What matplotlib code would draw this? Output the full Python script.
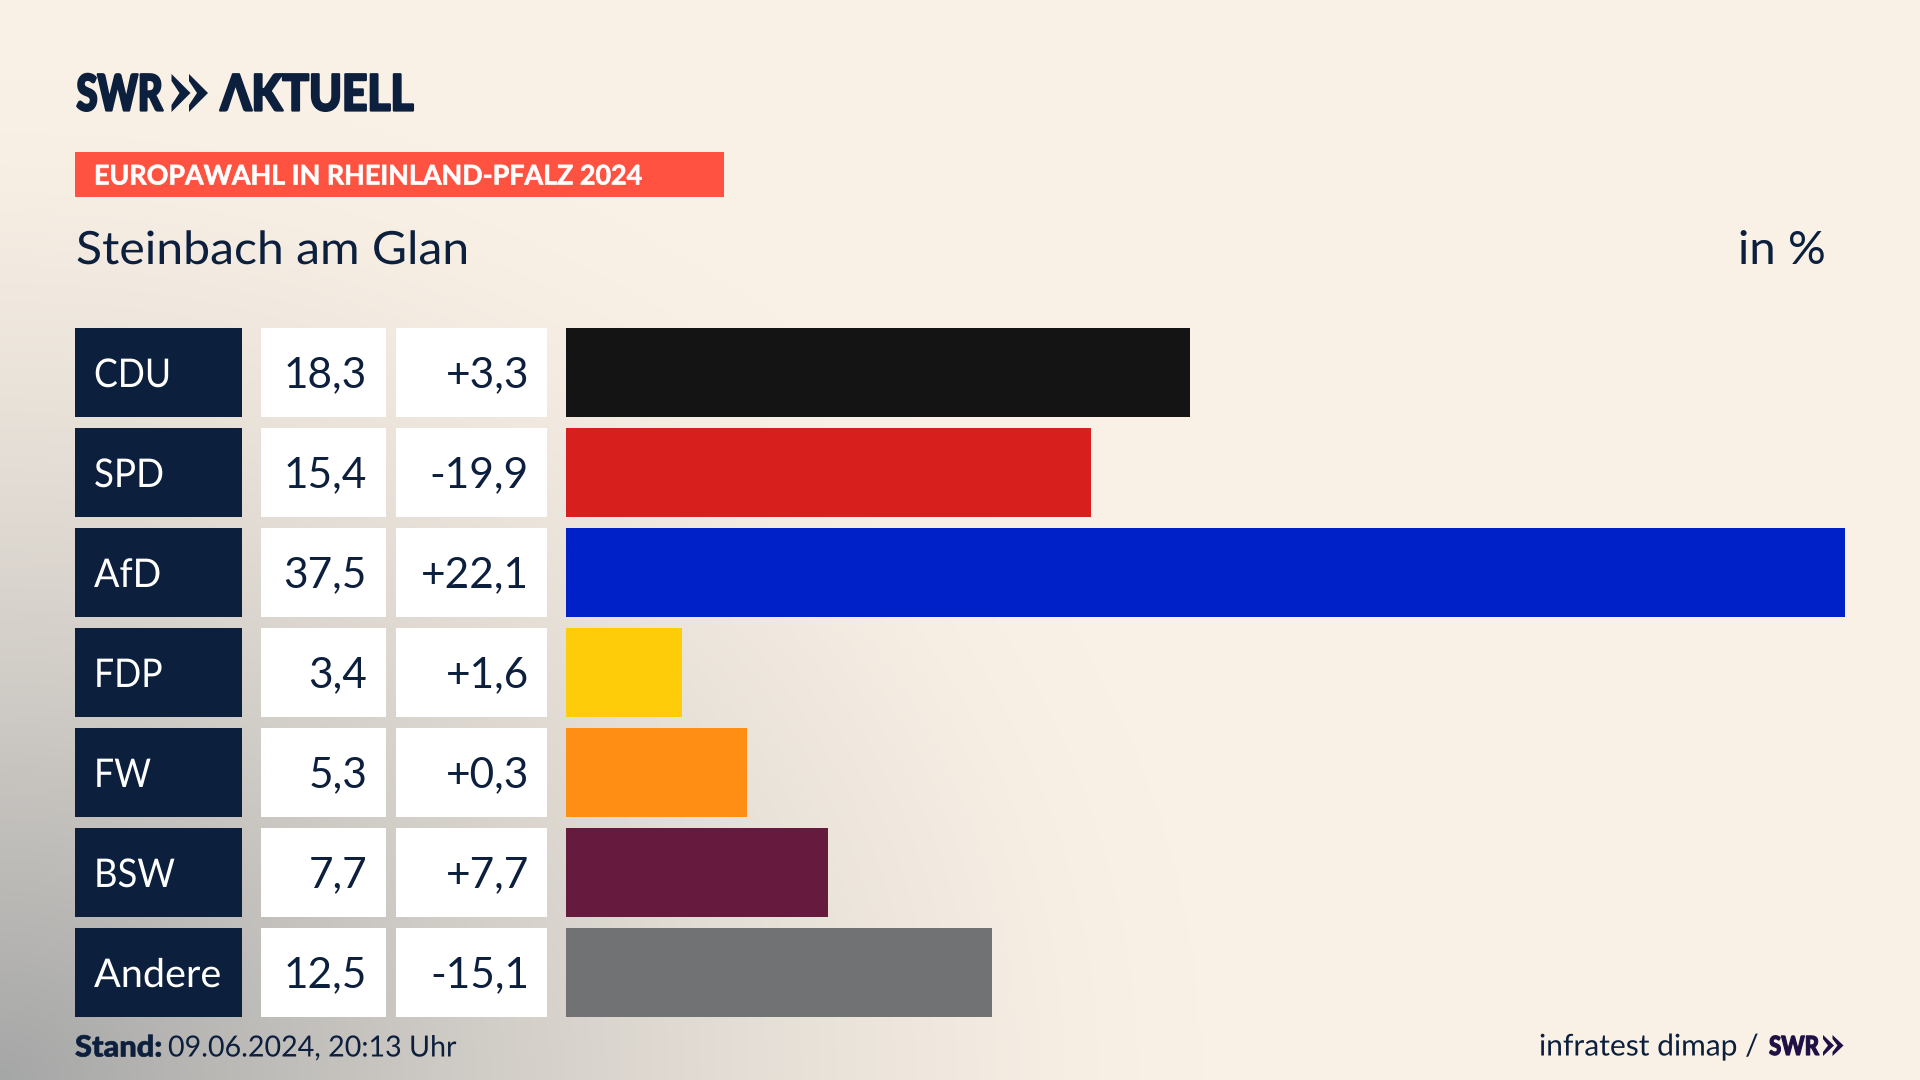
import numpy as np
import matplotlib
matplotlib.use('Agg')
import matplotlib.pyplot as plt
from matplotlib.patches import Rectangle, Polygon
from matplotlib.patheffects import AbstractPathEffect
from matplotlib.transforms import Affine2D

parties = ['CDU', 'SPD', 'AfD', 'FDP', 'FW', 'BSW', 'Andere']
shares = [18.3, 15.4, 37.5, 3.4, 5.3, 7.7, 12.5]
changes = ['+3,3', '-19,9', '+22,1', '+1,6', '+0,3', '+7,7', '-15,1']
bar_colors = ['#141414', '#D71F1D', '#0021C7', '#FFCC0A', '#FF8E14', '#651A3E', '#707274']

NAVY = '#0C1F3D'
INK = '#1E0F45'
FONT = 'Lato'
W, H = 1920, 1080


class Squeeze(AbstractPathEffect):
    """Scale a text horizontally around a pixel position, lw thickens the letters a bit"""

    def __init__(self, sx, x0, lw=0.0):
        super().__init__()
        self.sx = sx
        self.x0 = x0
        self.lw = lw

    def draw_path(self, renderer, gc, tpath, affine, rgbFace=None):
        t = affine + Affine2D().translate(-self.x0, 0).scale(self.sx, 1).translate(self.x0, 0)
        gc0 = renderer.new_gc()
        gc0.copy_properties(gc)
        gc0.set_linewidth(self.lw)
        renderer.draw_path(gc0, tpath, t, rgbFace)
        gc0.restore()


def fit_text(x, y, s, width, size, color=NAVY, weight='normal', lw=0.0):
    """Put a left aligned text at baseline y and make it exactly width pixels wide"""
    t = bg.text(x, y, s, color=color, fontsize=size, family=FONT, weight=weight, ha='left', va='baseline', zorder=2)
    box = t.get_window_extent(fig.canvas.get_renderer())
    t.set_path_effects([Squeeze(width / box.width, box.x0, lw)])
    return t


def chevrons(xs, top, bottom, w, notch, cut, color):
    mid = (top + bottom) / 2
    for x0 in xs:
        bg.add_patch(Polygon([(x0, top), (x0 + w, mid), (x0, bottom), (x0, bottom - cut),
                              (x0 + notch, mid), (x0, top + cut)], fc=color, ec='none', zorder=2))


fig = plt.figure(figsize=(19.2, 10.8), dpi=100)

# full figure axes in pixels, for background, cells and text
bg = fig.add_axes([0, 0, 1, 1])
bg.set_xlim(0, W)
bg.set_ylim(H, 0)
bg.axis('off')

# cream background with the grey haze coming out of the lower left corner
yy, xx = np.mgrid[0:H:270j, 0:W:480j]
d = np.sqrt((xx / 1200.0) ** 2 + ((H - yy) / 1000.0) ** 2)
a = np.clip(1 - d, 0, 1) ** 1.4
cream = np.array([250, 241, 230]) / 255.0
grey = np.array([165, 166, 166]) / 255.0
img = cream[None, None, :] * (1 - a[..., None]) + grey[None, None, :] * a[..., None]
bg.imshow(img, extent=[0, W, H, 0], aspect='auto', interpolation='bilinear', zorder=0)
bg.set_xlim(0, W)
bg.set_ylim(H, 0)

row_top = 328
row_step = 100
row_h = 88.5
name_sx = [0.90, 0.93, 0.95, 0.90, 0.90, 0.92, 1.0]
for i, name in enumerate(parties):
    y = row_top + i * row_step
    base = y + 59
    bg.add_patch(Rectangle((75, y), 167, row_h, fc=NAVY, ec='none', zorder=1))
    bg.add_patch(Rectangle((261, y), 125, row_h, fc='white', ec='none', zorder=1))
    bg.add_patch(Rectangle((396, y), 151, row_h, fc='white', ec='none', zorder=1))
    t = bg.text(94, base, name, color='white', fontsize=28.5, family=FONT, ha='left', va='baseline', zorder=2)
    t.set_path_effects([Squeeze(name_sx[i], 94)])
    bg.text(367, base, f'{shares[i]:.1f}'.replace('.', ','), color=NAVY, fontsize=30.5, family=FONT,
            ha='right', va='baseline', zorder=2)
    bg.text(529, base, changes[i], color=NAVY, fontsize=30.5, family=FONT, ha='right', va='baseline', zorder=2)

# bars on their own axes, scaled so that 37.5 reaches the right end
ax = fig.add_axes([565.7 / W, 1 - (928 + row_h) / H, 1279.6 / W, (600 + row_h) / H])
ax.set_xlim(0, 37.5)
ax.set_ylim(6 + row_h / row_step / 2, -row_h / row_step / 2)
ax.barh(range(len(parties)), shares, height=row_h / row_step, color=bar_colors)
ax.axis('off')

# logo
fit_text(76.5, 110.5, 'SWR', 86, 36, weight='black', lw=1.6)
chevrons([171.5, 189], 74, 112, 19, 8, 7, NAVY)
fit_text(220.5, 110.5, '\u039bKTUELL', 193, 36, weight='black', lw=1.6)

# tag line and titles
bg.add_patch(Rectangle((75, 152), 649, 45, fc='#FF5240', ec='none', zorder=1))
fit_text(94, 184.5, 'EUROPAWAHL IN RHEINLAND-PFALZ 2024', 548, 19.5, color='white', weight='bold', lw=0.5)
fit_text(76, 264, 'Steinbach am Glan', 394, 33)
bg.text(1826, 264, 'in %', color=NAVY, fontsize=34, family=FONT, ha='right', va='baseline', zorder=2)

# footer
fit_text(75, 1056.5, 'Stand:', 87, 21, weight='black', lw=0.5)
fit_text(168, 1056.5, '09.06.2024, 20:13 Uhr', 288, 21)
fit_text(1539, 1055.5, 'infratest dimap /', 220, 21.5)
fit_text(1769, 1055, 'SWR', 50, 19, color=INK, weight='black', lw=0.8)
chevrons([1823, 1832.5], 1035, 1056, 11, 5, 4, INK)

fig.savefig('out.png', dpi=100)
